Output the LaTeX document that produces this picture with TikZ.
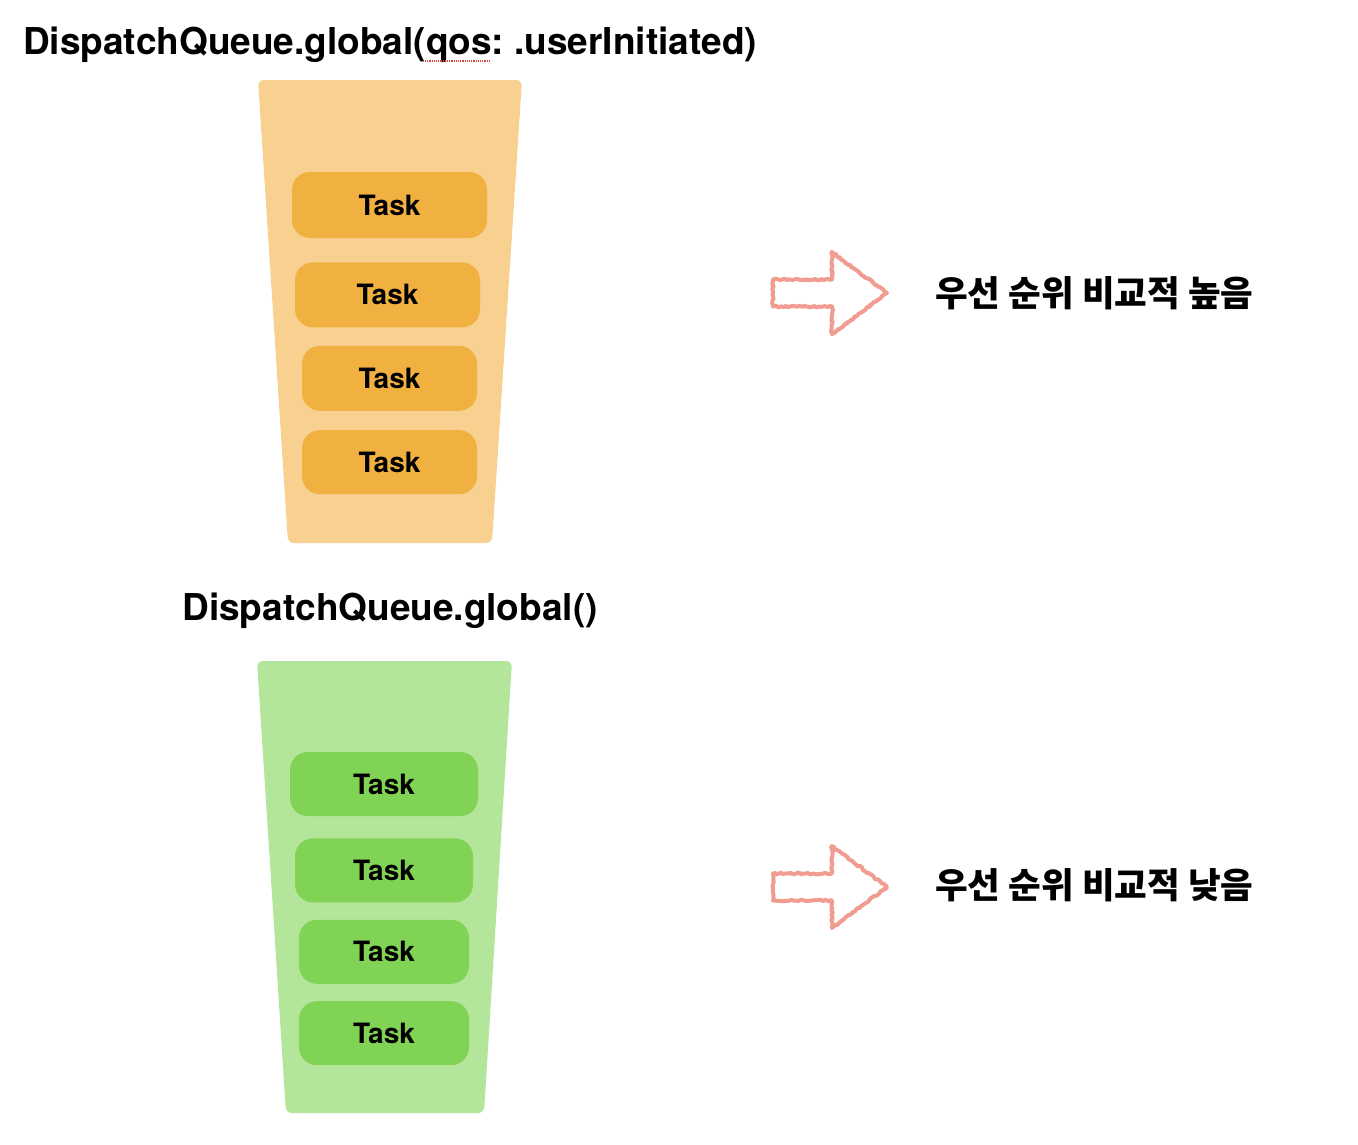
\documentclass[tikz,border=0pt]{standalone}
\usepackage{fontspec}
\setmainfont{TeX Gyre Heros}
\newfontfamily\krfont{Noto Sans CJK KR}
\usetikzlibrary{positioning, decorations.pathmorphing}
\definecolor{queueorange}{RGB}{248,209,144}
\definecolor{taskorange}{RGB}{240,177,64}
\definecolor{queuegreen}{RGB}{179,229,154}
\definecolor{taskgreen}{RGB}{128,211,84}
\definecolor{arrowpink}{RGB}{240,156,144}
\definecolor{spellred}{RGB}{210,70,60}
\tikzstyle{task}=[rectangle, rounded corners=18pt, inner sep=0pt, minimum height=65pt, font=\fontsize{28}{30}\selectfont\bfseries]
\tikzstyle{hightask}=[task, fill=taskorange]
\tikzstyle{lowtask}=[task, fill=taskgreen]
\tikzstyle{queuetitle}=[inner sep=0pt, font=\frenchspacing\fontsize{37}{40}\selectfont\bfseries]
\tikzstyle{priority}=[inner sep=0pt, anchor=west, font=\krfont\fontsize{35.5}{38}\selectfont\bfseries]
\tikzstyle{sketch}=[draw=arrowpink, line width=4pt, line join=round, decorate, decoration={random steps, segment length=2pt, amplitude=0.9pt}]
\tikzset{hollow arrow/.pic={
  \draw[sketch] (0,-13.5) -- (59,-13.5) -- (59,-41) -- (114,0) -- (59,41) -- (59,13.5) -- (0,13.5) -- cycle;
}}

\begin{document}
\begin{tikzpicture}[x=1pt, y=-1pt, node distance=20pt]
    \useasboundingbox[fill=white] (0,0) rectangle (1358,1144);

    % High priority queue.
    \node[queuetitle] (hightitle) at (390,45) {DispatchQueue.global(qos: .userInitiated)};
    \draw[spellred, densely dotted, line width=1.2pt] (425,61) -- (491,61);
    \fill[queueorange, rounded corners=6pt] (258,80) -- (522,80) -- (492,543) -- (288,543) -- cycle;
    \node[hightask, minimum width=195pt, minimum height=66pt] (ht1) at (389.5,205) {Task};
    \node[hightask, minimum width=185pt, below=24pt of ht1, xshift=-2pt] (ht2) {Task};
    \node[hightask, minimum width=175pt, below=18pt of ht2, xshift=2pt] (ht3) {Task};
    \node[hightask, minimum width=175pt, minimum height=64pt, below=19pt of ht3] (ht4) {Task};

    % Low priority queue.
    \node[queuetitle] (lowtitle) at (390,611) {DispatchQueue.global()};
    \fill[queuegreen, rounded corners=6pt] (257,661) -- (512,661) -- (484,1113) -- (286,1113) -- cycle;
    \node[lowtask, minimum width=188pt, minimum height=64pt] (lt1) at (384,784) {Task};
    \node[lowtask, minimum width=178pt, minimum height=64pt, below=22pt of lt1] (lt2) {Task};
    \node[lowtask, minimum width=170pt, minimum height=64pt, below=17pt of lt2] (lt3) {Task};
    \node[lowtask, minimum width=170pt, minimum height=64pt, below=17pt of lt3] (lt4) {Task};

    % Priority notes.
    \pic at (773,293) {hollow arrow};
    \node[priority] (highnote) at (935,293) {우선 순위 비교적 높음};
    \pic at (773,887) {hollow arrow};
    \node[priority] (lownote) at (935,885) {우선 순위 비교적 낮음};
\end{tikzpicture}
\end{document}
